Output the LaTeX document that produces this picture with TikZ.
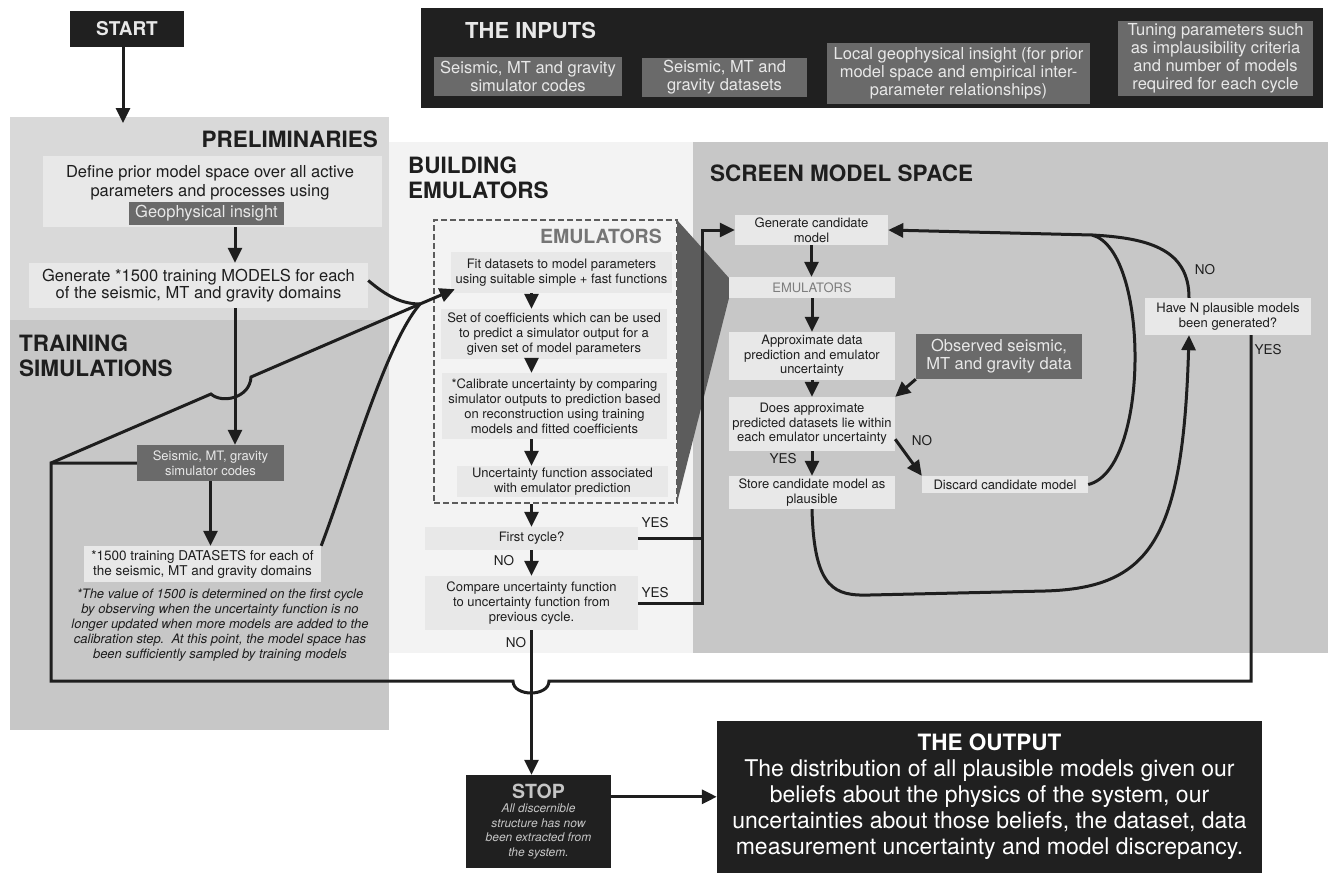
\documentclass[tikz,border=0pt]{standalone}
\usepackage{fontspec}
\setmainfont{TeX Gyre Heros}
\usetikzlibrary{arrows.meta, calc}

\definecolor{panelpre}{RGB}{217,217,217}
\definecolor{paneltrain}{RGB}{199,199,199}
\definecolor{panelbuild}{RGB}{243,243,243}
\definecolor{panelscreen}{RGB}{199,199,199}
\definecolor{boxfill}{RGB}{232,232,232}
\definecolor{darkfill}{RGB}{106,106,106}
\definecolor{blackfill}{RGB}{32,32,32}
\definecolor{inkcol}{RGB}{30,30,30}
\definecolor{lighttext}{RGB}{232,232,232}
\definecolor{emugray}{RGB}{92,92,92}

\newcommand{\fsz}[2]{\fontsize{#1}{#2}\selectfont}

\tikzset{
  lightbox/.style={rectangle, fill=boxfill, inner sep=0pt, align=center, text=inkcol, font=\fsz{13}{15}},
  darkbox/.style={rectangle, fill=darkfill, inner sep=0pt, align=center, text=lighttext, font=\fsz{13}{15}},
  blackbox/.style={rectangle, fill=blackfill, inner sep=0pt, align=center, text=lighttext},
  sectitle/.style={inner sep=0pt, text=inkcol, font=\bfseries\fsz{22.5}{25}, align=left},
  answer/.style={inner sep=0pt, text=inkcol, font=\fsz{13.5}{15}},
  wire/.style={line width=3pt, draw=inkcol},
  arrow/.style={wire, -{Triangle[length=15pt,width=14pt]}}
}

\begin{document}
\begin{tikzpicture}[x=1pt, y=-1pt]
    \useasboundingbox (0,0) rectangle (1328,876);

    % ==========================================
    % 1. Paneles de fondo
    % ==========================================
    \fill[panelpre]    (10,117)  rectangle (389,320);
    \fill[paneltrain]  (10,320)  rectangle (389,730);
    \fill[panelbuild]  (389,142) rectangle (693,653);
    \fill[panelscreen] (693,142) rectangle (1328,653);

    % Embudo de los emuladores
    \fill[emugray] (677,220) -- (729,278) -- (729,298) -- (677,503) -- cycle;

    % Titulos de los paneles
    \node[sectitle, anchor=east] (tprelim) at (378,139.5) {PRELIMINARIES};
    \node[sectitle, anchor=north west] (ttrain) at (19,335) {TRAINING\\SIMULATIONS};
    \node[sectitle, anchor=north west] (tbuild) at (408,157) {BUILDING\\EMULATORS};
    \node[sectitle, anchor=west] (tscreen) at (710,173) {SCREEN MODEL SPACE};

    % ==========================================
    % 2. Entradas (barra superior)
    % ==========================================
    \node[blackbox, minimum width=902, minimum height=100] (inbar) at (872,58) {};
    \node[anchor=west, inner sep=0pt, text=lighttext, font=\bfseries\fsz{22}{25}] (intitle) at (465,30) {THE INPUTS};
    \node[darkbox, font=\fsz{16.5}{18}, minimum width=188, minimum height=39] (incodes) at (528,76.5) {Seismic, MT and gravity\\simulator codes};
    \node[darkbox, font=\fsz{16.5}{18}, minimum width=165, minimum height=39] (indata) at (724.5,77.5) {Seismic, MT and\\gravity datasets};
    \node[darkbox, font=\fsz{16.5}{18}, minimum width=263, minimum height=61] (ininsight) at (958.5,73.5) {Local geophysical insight (for prior\\model space and empirical inter-\\parameter relationships)};
    \node[darkbox, font=\fsz{16.5}{18}, minimum width=195, minimum height=75] (intuning) at (1215.5,58.5) {Tuning parameters such\\as implausibility criteria\\and number of models\\required for each cycle};

    % ==========================================
    % 3. Preliminares y simulaciones
    % ==========================================
    \node[blackbox, font=\bfseries\fsz{19}{21}, minimum width=114, minimum height=36] (start) at (127,29) {START};
    \coordinate (prelimtop) at (123,123);
    \coordinate (spine) at (235,0);

    \node[lightbox, minimum width=339, minimum height=71] (define) at (212.5,191.5) {};
    \node[inner sep=0pt, align=center, text=inkcol, font=\fsz{16.5}{19}] (definetxt) at (210,182.5) {Define prior model space over all active\\parameters and processes using};
    \node[darkbox, font=\fsz{16.5}{18}, minimum width=155, minimum height=23] (insight) at (206.5,213.5) {Geophysical insight};
    \node[lightbox, font=\fsz{16.5}{17}, minimum width=339, minimum height=45] (gen) at (198.5,285.5) {Generate *1500 training MODELS for each\\of the seismic, MT and gravity domains};

    \node[darkbox, minimum width=147, minimum height=36] (simc) at (210.5,463) {Seismic, MT, gravity\\simulator codes};
    \node[lightbox, font=\fsz{13.5}{15}, minimum width=237, minimum height=36] (data) at (202.5,564) {*1500 training DATASETS for each of\\the seismic, MT and gravity domains};
    \node[inner sep=0pt, align=center, text=inkcol, font=\itshape\fsz{13}{15}] (note) at (220,625) {*The value of 1500 is determined on the first cycle\\by observing when the uncertainty function is no\\longer updated when more models are added to the\\calibration step.\ \ At this point, the model space has\\been sufficiently sampled by training models};

    % ==========================================
    % 4. Construccion de emuladores
    % ==========================================
    \node[rectangle, draw=emugray, line width=2.8pt, dash pattern=on 6pt off 3pt, minimum width=243, minimum height=283, inner sep=0pt] (emubox) at (555.5,361.5) {};
    \node[anchor=east, inner sep=0pt, text=emugray!85!white, font=\bfseries\fsz{19.5}{22}] (emutitle) at (662,236) {EMULATORS};
    \node[lightbox, minimum width=221, minimum height=41] (fit) at (561.5,272.5) {Fit datasets to model parameters\\using suitable simple + fast functions};
    \node[lightbox, minimum width=226, minimum height=50] (coef) at (554,334) {Set of coefficients which can be used\\to predict a simulator output for a\\given set of model parameters};
    \node[lightbox, minimum width=225, minimum height=66] (calib) at (554.5,406) {*Calibrate uncertainty by comparing\\simulator outputs to prediction based\\on reconstruction using training\\models and fitted coefficients};
    \node[lightbox, minimum width=211, minimum height=31] (uncf) at (562.5,481.5) {Uncertainty function associated\\with emulator prediction};
    \node[lightbox, minimum width=213, minimum height=23] (first) at (531.5,538.5) {First cycle?};
    \node[lightbox, minimum width=213, minimum height=54] (cmp) at (531.5,603) {Compare uncertainty function\\to uncertainty function from\\previous cycle.};

    % ==========================================
    % 5. Cribado del espacio de modelos
    % ==========================================
    \node[lightbox, minimum width=153, minimum height=30, font=\fsz{13}{14.5}] (gcand) at (811.5,230) {Generate candidate\\model};
    \node[lightbox, minimum width=166, minimum height=21, text=emugray!80!white] (semu) at (812,287.5) {EMULATORS};
    \node[lightbox, minimum width=166, minimum height=48, font=\fsz{13}{14.5}] (approx) at (812,356) {Approximate data\\prediction and emulator\\uncertainty};
    \node[lightbox, minimum width=166, minimum height=54, font=\fsz{13}{14.5}] (does) at (812,424) {Does approximate\\predicted datasets lie within\\each emulator uncertainty};
    \node[darkbox, minimum width=166, minimum height=45, font=\fsz{16.5}{18}] (obs) at (999,356.5) {Observed seismic,\\MT and gravity data};
    \node[lightbox, minimum width=166, minimum height=33, font=\fsz{13}{14.5}] (store) at (812,492.5) {Store candidate model as\\plausible};
    \node[lightbox, minimum width=166, minimum height=17] (discard) at (1005,484.5) {Discard candidate model};
    \node[lightbox, minimum width=166, minimum height=37] (have) at (1228,316.5) {Have N plausible models\\been generated?};

    % ==========================================
    % 6. Parada y salida
    % ==========================================
    \node[blackbox, text=lighttext!85!black, font=\itshape\fsz{12}{14.5}, minimum width=145, minimum height=93] (stop) at (538.5,821.5) {{\upshape\bfseries\fsz{19.5}{22}STOP}\\All discernible\\structure has now\\been extracted from\\the system.};
    \node[blackbox, text=white, font=\fsz{23}{26}, minimum width=545, minimum height=152] (out) at (989.5,797) {{\bfseries\fsz{22.5}{26}THE OUTPUT}\\The distribution of all plausible models given our\\beliefs about the physics of the system, our\\uncertainties about those beliefs, the dataset, data\\measurement uncertainty and model discrepancy.};

    % Etiquetas SI / NO
    \node[answer] (yesfirst) at (655,523) {YES};
    \node[answer] (nofirst) at (504,561) {NO};
    \node[answer] (yescmp) at (655,593) {YES};
    \node[answer] (nocmp) at (516,643) {NO};
    \node[answer] (yesdoes) at (783,459) {YES};
    \node[answer] (nodoes) at (922,441) {NO};
    \node[answer] (nohave) at (1205,270) {NO};
    \node[answer] (yeshave) at (1268,350) {YES};

    % ==========================================
    % 7. Conexiones
    % ==========================================
    \coordinate (merge) at (420,304);
    \coordinate (loopb) at (51,681);
    \coordinate (loopc) at (51,463);
    \coordinate (jumpA) at (211,394);
    \coordinate (jumpB) at (251,377);
    \coordinate (jumpR) at (549,681);
    \coordinate (jumpL) at (513,681);
    \coordinate (upx) at (702,0);
    \coordinate (topjoin) at (1092,235);
    \coordinate (stopout) at ($(stop.north east)+(0,22)$);

    \draw[arrow] (start.south -| prelimtop) -- (prelimtop);
    \draw[arrow] (define.south -| spine) -- (gen.north -| spine);
    \draw[arrow] (gen.south -| spine) -- (simc.north -| spine);
    \draw[arrow] (simc.south) -- (simc.south |- data.north);

    % Tres ramas hacia los emuladores
    \draw[wire] ($(gen.east)+(0,-5)$) .. controls (382,292) and (398,304) .. (merge);
    \draw[wire] (data.north east) .. controls (350,470) and (385,345) .. (merge);
    \draw[wire] (loopc) -- (jumpA) .. controls (222,404) and (250,398) .. (jumpB) -- (merge);
    \draw[arrow] (merge) -- ($(fit.south west)+(4,-4)$);

    % Dentro de los emuladores
    \draw[arrow] (fit.south -| cmp.south) -- (coef.north -| cmp.south);
    \draw[arrow] (coef.south -| cmp.south) -- (calib.north -| cmp.south);
    \draw[arrow] (calib.south -| cmp.south) -- (uncf.north -| cmp.south);
    \draw[arrow] (emubox.south -| cmp.south) -- (first.north);
    \draw[arrow] (first.south) -- (cmp.north);
    \draw[wire] (first.east) -- (first.east -| upx);
    \draw[arrow] (cmp.east) -| (upx |- gcand.west) -- (gcand.west);

    % Cribado
    \draw[arrow] (gcand.south) -- (gcand.south |- semu.north);
    \draw[arrow] (semu.south) -- (approx.north);
    \draw[arrow] (approx.south) -- (does.north);
    \draw[arrow] (does.south) -- (store.north);
    \draw[arrow] (obs.south west) -- (does.north east);
    \draw[arrow] ($(does.south east)+(0,-12)$) -- (discard.north west);
    \draw[arrow] (discard.east) .. controls (1150,470) and (1150,250) .. (topjoin) -- (gcand.east);
    \draw[wire] ($(have.north)+(-39,0)$) .. controls (1189,250) and (1150,238) .. (topjoin);
    \draw[arrow] (store.south) .. controls (814,590) and (835,596) .. (870,595) -- (1045,591) .. controls (1150,588) and (1183,540) .. ($(have.south)+(-39,0)$);

    % Bucle inferior (YES) con salto
    \draw[wire] ($(have.south)+(23,0)$) |- (jumpR) .. controls ($(jumpR)+(0,16)$) and ($(jumpL)+(0,16)$) .. (jumpL) -- (loopb) |- (simc.west);

    % Parada y salida
    \draw[arrow] (cmp.south) -- (cmp.south |- stop.north);
    \draw[arrow] (stopout) -- (stopout -| out.west);

\end{tikzpicture}
\end{document}
